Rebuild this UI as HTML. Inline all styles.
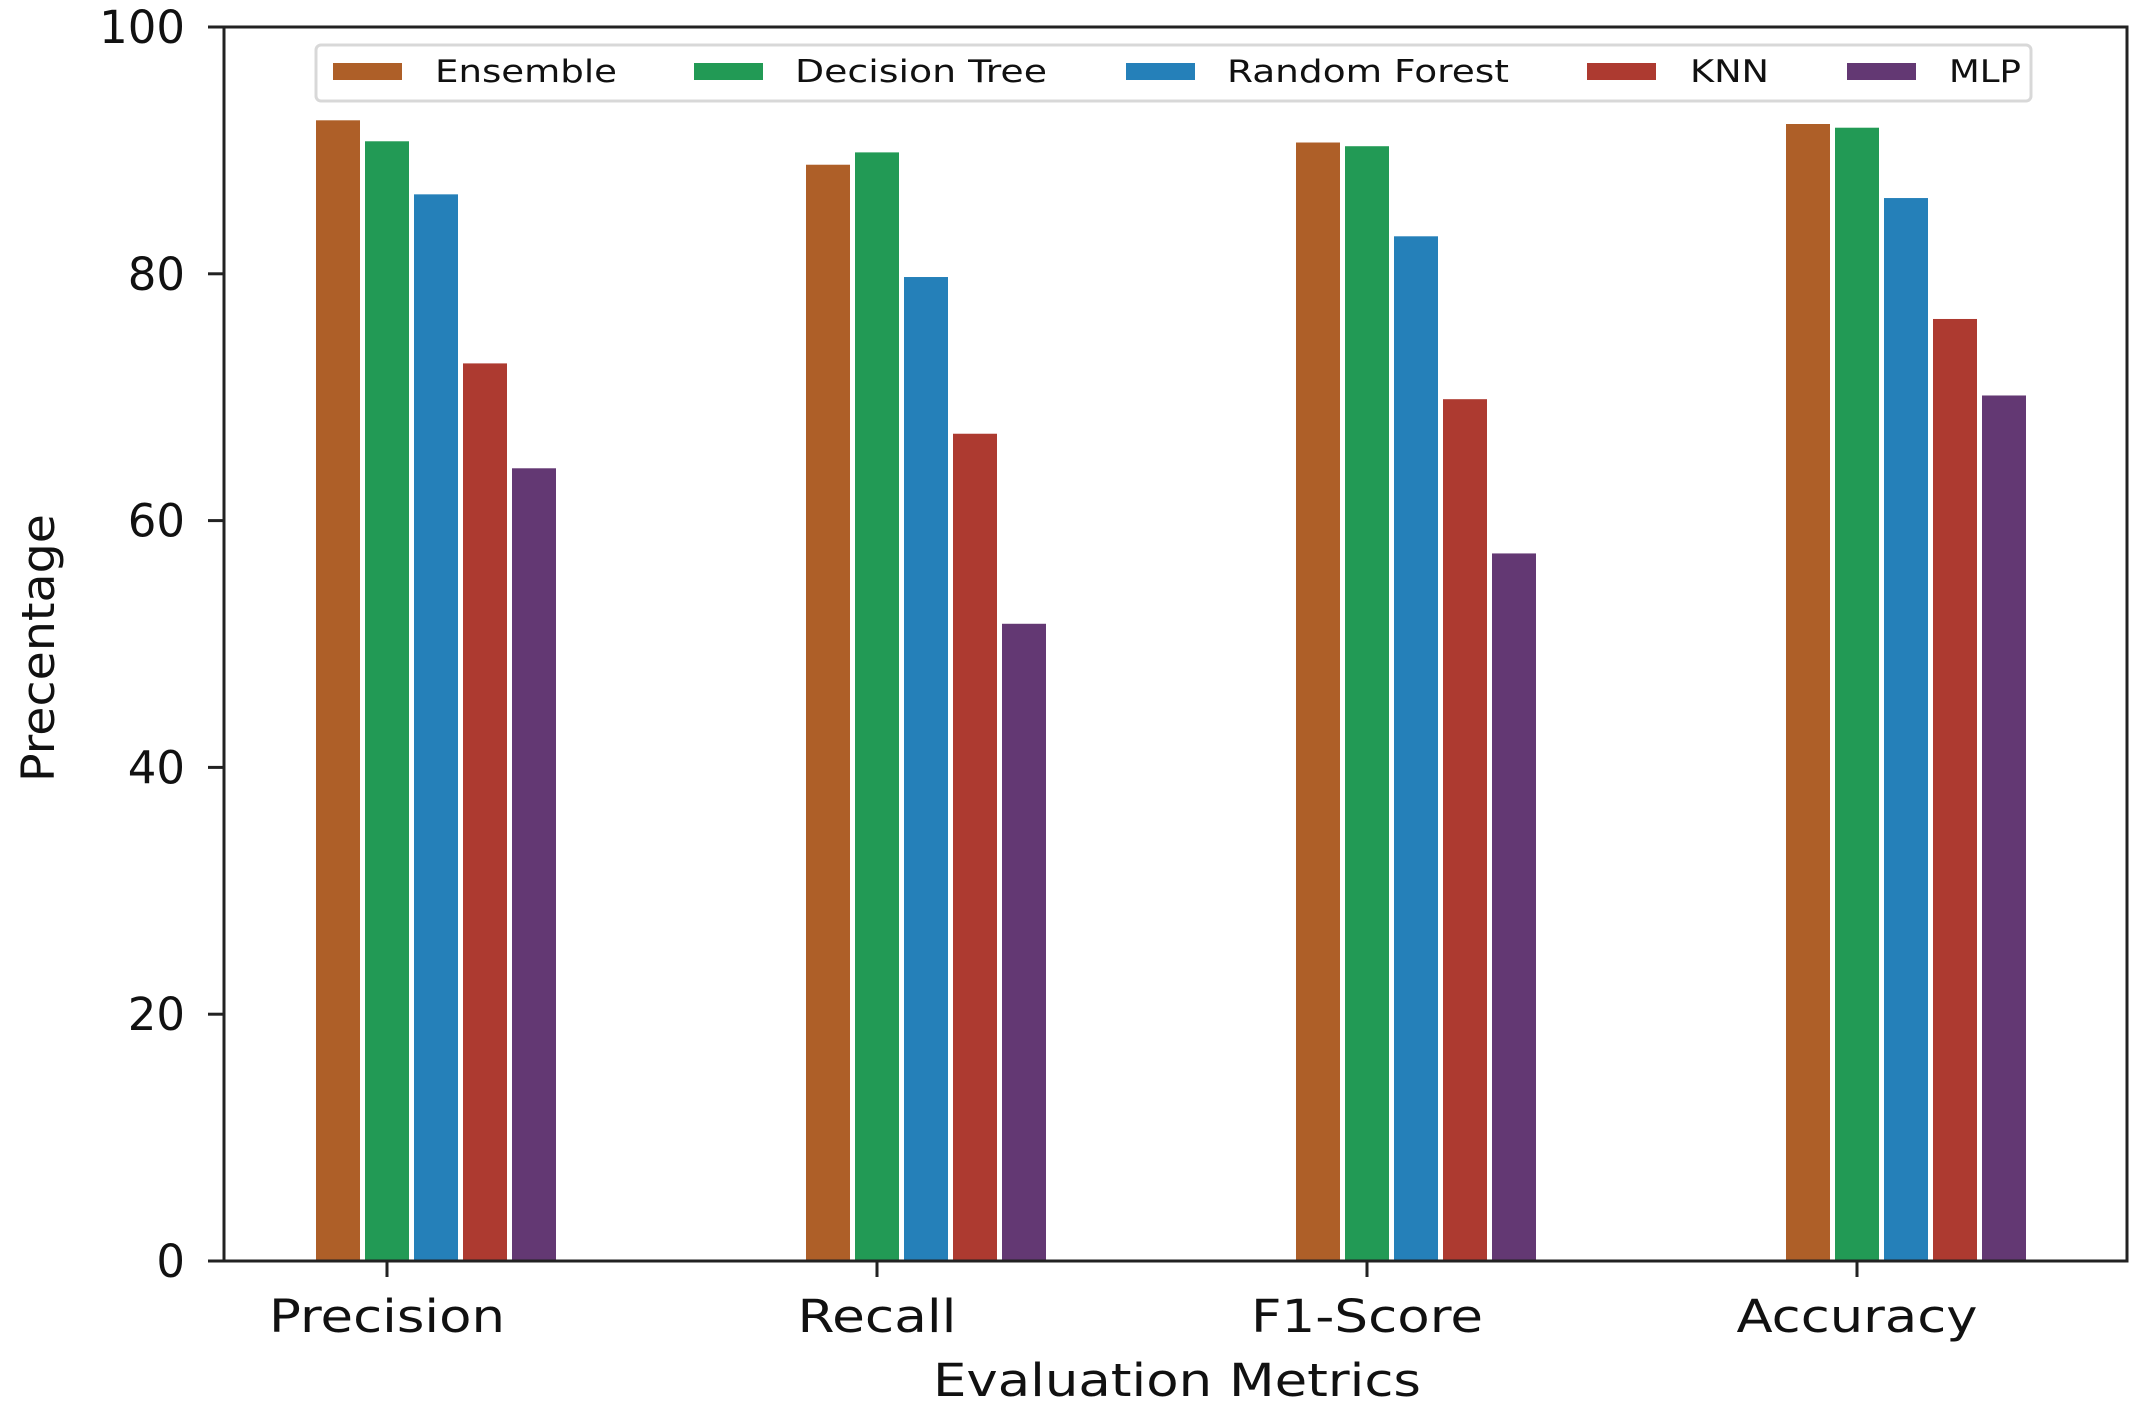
<!DOCTYPE html>
<html><head><meta charset="utf-8"><style>
html,body{margin:0;padding:0;background:#fff;}
svg{display:block;font-family:"DejaVu Sans","Liberation Sans",sans-serif;}
</style></head><body>
<svg id="chart" width="2140" height="1413" viewBox="0 0 2140 1413" xmlns="http://www.w3.org/2000/svg">
<g id="bars"></g>
<g id="axes"></g>
<g id="legend"></g>
</svg>
<script>
const categories = ["Precision","Recall","F1-Score","Accuracy"];
const seriesNames = ["Ensemble","Decision Tree","Random Forest","KNN","MLP"];
const ensemble = [92.5, 88.9, 90.7, 92.2];
const decisionTree = [90.8, 89.9, 90.4, 91.9];
const randomForest = [86.5, 79.8, 83.1, 86.2];
const knn = [72.8, 67.1, 69.9, 76.4];
const mlp = [64.3, 51.7, 57.4, 70.2];
const yTicks = [0, 20, 40, 60, 80, 100];

const series = [ensemble, decisionTree, randomForest, knn, mlp];
const colors = ["#ae5f28","#229a55","#2580b9","#ad3a30","#633873"];
const NS = "http://www.w3.org/2000/svg";
const L = 224, R = 2127, T = 27, B = 1261;
const yMin = 0, yMax = 100;
function y(v){ return B - (v - yMin) / (yMax - yMin) * (B - T); }
const x0 = 387, xStep = 490;
function x(i){ return x0 + i * xStep; }
const barStep = 49, barW = 45.5;
function mk(tag, attrs, parent){ const e = document.createElementNS(NS, tag); for (const k in attrs) e.setAttribute(k, attrs[k]); parent.appendChild(e); return e; }

const gb = document.getElementById('bars');
series.forEach((vals, s) => {
  vals.forEach((v, i) => {
    const cx = x(i) + (s - 1) * barStep;
    const r = mk('rect', {x: cx - barW/2, y: y(v), width: barW, height: y(0) - y(v), fill: colors[s], stroke: "#fff", "stroke-width": 1.5}, gb);
    
    
  });
});

const ga = document.getElementById('axes');
const frame = mk('rect', {x: L, y: T, width: R - L, height: B - T, fill: "none", stroke: "#222", "stroke-width": 3}, ga);


yTicks.forEach(t => {
  mk('line', {x1: L - 16, x2: L, y1: y(t), y2: y(t), stroke: "#222", "stroke-width": 3}, ga);
  const tx = mk('text', {x: 185, y: y(t) + 16, "text-anchor": "end", "font-size": 45, fill: "#111"}, ga);
  tx.textContent = t;
  
  
});
const labelW = [236, 159, 232, 241];
categories.forEach((c, i) => {
  mk('line', {x1: x(i), x2: x(i), y1: B, y2: B + 16, stroke: "#222", "stroke-width": 3}, ga);
  const tx = mk('text', {x: x(i), y: 1332, "text-anchor": "middle", "font-size": 45, fill: "#111", textLength: labelW[i], lengthAdjust: "spacingAndGlyphs"}, ga);
  tx.textContent = c;
  
  
});
const xl = mk('text', {x: 1177, y: 1396, "text-anchor": "middle", "font-size": 45, fill: "#111", textLength: 488, lengthAdjust: "spacingAndGlyphs"}, ga);
xl.textContent = "Evaluation Metrics";


const yl = mk('text', {x: 0, y: 0, "text-anchor": "middle", "font-size": 45, fill: "#111", textLength: 268, lengthAdjust: "spacingAndGlyphs", transform: "translate(54,648) rotate(-90)"}, ga);
yl.textContent = "Precentage";



const gl = document.getElementById('legend');
const lb = mk('rect', {x: 316, y: 45, width: 1715, height: 56, rx: 5, fill: "#fff", stroke: "#d8d8d8", "stroke-width": 3}, gl);


const patchX = [333, 694, 1126, 1587, 1847];
const textX = [435, 795, 1227, 1690, 1949];
const textW = [182, 252, 282, 79, 72];
seriesNames.forEach((n, s) => {
  const p = mk('rect', {x: patchX[s], y: 63, width: 69, height: 17, fill: colors[s]}, gl);
  
  
  const t = mk('text', {x: textX[s], y: 82, "font-size": 31, fill: "#111", textLength: textW[s], lengthAdjust: "spacingAndGlyphs"}, gl);
  t.textContent = n;
  
  
});
</script>
</body></html>
